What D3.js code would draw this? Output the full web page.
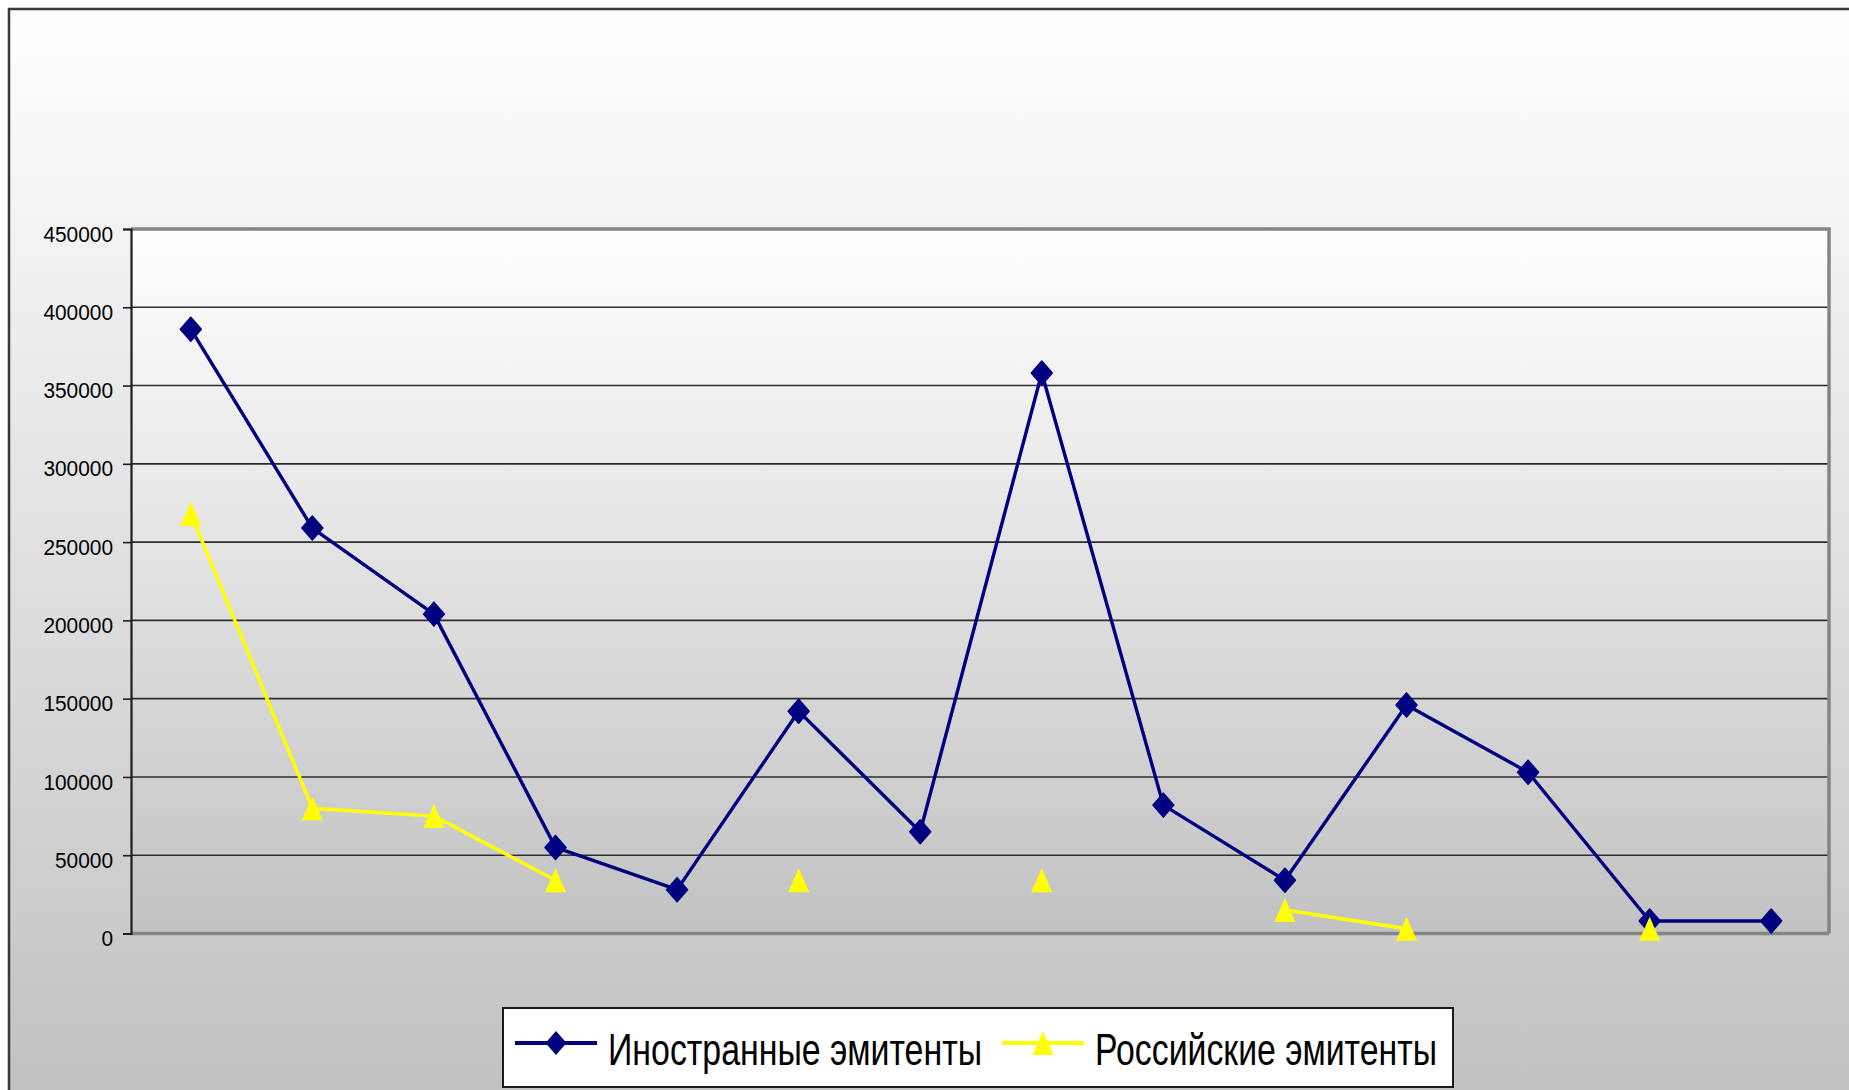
<!DOCTYPE html>
<html>
<head>
<meta charset="utf-8">
<script src="https://cdn.jsdelivr.net/npm/d3@7"></script>
<style>
  html, body { margin: 0; padding: 0; background: #ffffff; }
  svg { display: block; }
  text { font-family: "Liberation Sans", Arial, sans-serif; fill: #000; }
</style>
</head>
<body>
<svg id="chart" width="1849" height="1090"></svg>
<script>
// Periods along the horizontal axis (unlabelled in the chart)
const categories = ["1", "2", "3", "4", "5", "6", "7", "8", "9", "10", "11", "12", "13", "14"];

// Series values
const foreignIssuers = [386000, 259000, 204000, 55000, 28000, 142000, 65000, 358000, 82000, 34000, 146000, 103000, 8000, 8000];
const russianIssuers = [268000, 80000, 75000, 34000, null, 34000, null, 34000, null, 15000, 3000, null, 3000, null];

// Series names for the legend
const seriesNames = ["Иностранные эмитенты", "Российские эмитенты"];

// Y axis ticks
const yTicks = [0, 50000, 100000, 150000, 200000, 250000, 300000, 350000, 400000, 450000];

const W = 1849, H = 1090;
const plot = { left: 131, top: 229, right: 1829, bottom: 933.5 };

const svg = d3.select("#chart");
const defs = svg.append("defs");

// Background gradients
const outerGrad = defs.append("linearGradient").attr("id", "outerGrad")
  .attr("x1", 0).attr("y1", 0).attr("x2", 0).attr("y2", 1);
outerGrad.append("stop").attr("offset", "0%").attr("stop-color", "#ffffff");
outerGrad.append("stop").attr("offset", "100%").attr("stop-color", "#c0c0c0");

const plotGrad = defs.append("linearGradient").attr("id", "plotGrad")
  .attr("x1", 0).attr("y1", 0).attr("x2", 0).attr("y2", 1);
plotGrad.append("stop").attr("offset", "0%").attr("stop-color", "#ffffff");
plotGrad.append("stop").attr("offset", "100%").attr("stop-color", "#c2c2c2");

// Chart area with border (extends past the right and bottom edges)
svg.append("rect")
  .attr("x", 9).attr("y", 9).attr("width", W + 20).attr("height", H + 20)
  .attr("fill", "url(#outerGrad)")
  .attr("stroke", "#3a3a3a").attr("stroke-width", 2.5);

// Scales
const x = d3.scaleBand().domain(categories).range([130, 1832]);
const y = d3.scaleLinear().domain([0, 450000]).range([plot.bottom, plot.top]);
const cx = d => x(d) + x.bandwidth() / 2;

// Plot area
svg.append("rect")
  .attr("x", plot.left).attr("y", plot.top)
  .attr("width", plot.right - plot.left).attr("height", plot.bottom - plot.top)
  .attr("fill", "url(#plotGrad)");

// Horizontal gridlines
svg.append("g")
  .selectAll("line")
  .data(yTicks.filter(v => v > 0 && v < 450000))
  .join("line")
  .attr("x1", plot.left).attr("x2", plot.right)
  .attr("y1", d => y(d)).attr("y2", d => y(d))
  .attr("stroke", "#2e2e2e").attr("stroke-width", 1.6);

// Plot area border: top and right in gray
svg.append("path")
  .attr("d", `M${plot.left},${y(450000)}H${plot.right}V${plot.bottom}`)
  .attr("fill", "none").attr("stroke", "#858585").attr("stroke-width", 3.5);

// Category axis (gray)
svg.append("line")
  .attr("x1", plot.left).attr("x2", plot.right)
  .attr("y1", plot.bottom).attr("y2", plot.bottom)
  .attr("stroke", "#858585").attr("stroke-width", 3.5);

// Value axis
const yAxis = d3.axisLeft(y).tickValues(yTicks).tickSize(8).tickPadding(10).tickFormat(d3.format("d"));
const yAxisG = svg.append("g").attr("transform", `translate(${plot.left},0)`).call(yAxis);
yAxisG.select(".domain").attr("stroke", "#1e1e1e").attr("stroke-width", 2.2);
yAxisG.selectAll(".tick line").attr("stroke", "#1e1e1e").attr("stroke-width", 1.6);
yAxisG.selectAll(".tick text")
  .attr("font-family", "'Liberation Sans', Arial, sans-serif")
  .attr("font-size", 22)
  .attr("fill", "#000")
  .attr("dy", "0.55em")
  .each(function(d) {
    const s = d3.format("d")(d);
    d3.select(this).attr("textLength", s.length * 11.6).attr("lengthAdjust", "spacingAndGlyphs");
  });

// Marker shapes
const diamondPath = (px, py, hw = 10.5, hh = 12) =>
  `M${px},${py - hh}L${px + hw},${py}L${px},${py + hh}L${px - hw},${py}Z`;
const trianglePath = (px, py, hw = 10.5, hh = 12) =>
  `M${px},${py - hh}L${px + hw},${py + hh}L${px - hw},${py + hh}Z`;

const navy = "#000080";
const yellow = "#ffff00";

// Foreign issuers series
const foreignData = categories.map((c, i) => ({ c, v: foreignIssuers[i] }));
const lineGen = d3.line()
  .defined(d => d.v != null)
  .x(d => cx(d.c))
  .y(d => y(d.v));

svg.append("path")
  .datum(foreignData)
  .attr("d", lineGen)
  .attr("fill", "none").attr("stroke", navy).attr("stroke-width", 3.4)
  .attr("stroke-linejoin", "round");

svg.append("g")
  .selectAll("path")
  .data(foreignData.filter(d => d.v != null))
  .join("path")
  .attr("d", d => diamondPath(cx(d.c), y(d.v)))
  .attr("fill", navy).attr("stroke", navy).attr("stroke-width", 1.5)
  .attr("stroke-linejoin", "round");

// Russian issuers series
const russianData = categories.map((c, i) => ({ c, v: russianIssuers[i] }));
svg.append("path")
  .datum(russianData)
  .attr("d", lineGen)
  .attr("fill", "none").attr("stroke", yellow).attr("stroke-width", 3.4)
  .attr("stroke-linejoin", "round");

svg.append("g")
  .selectAll("path")
  .data(russianData.filter(d => d.v != null))
  .join("path")
  .attr("d", d => trianglePath(cx(d.c), y(d.v)))
  .attr("fill", yellow);

// Legend
const legend = svg.append("g");
legend.append("rect")
  .attr("x", 503).attr("y", 1008).attr("width", 950).attr("height", 79)
  .attr("fill", "#ffffff").attr("stroke", "#1a1a1a").attr("stroke-width", 2);

const legendItems = [
  { name: seriesNames[0], color: navy, marker: diamondPath, x0: 515, textX: 608, textLen: 374 },
  { name: seriesNames[1], color: yellow, marker: trianglePath, x0: 1002, textX: 1095, textLen: 342 }
];
const ly = 1043;
legendItems.forEach(it => {
  legend.append("line")
    .attr("x1", it.x0).attr("x2", it.x0 + 82)
    .attr("y1", ly).attr("y2", ly)
    .attr("stroke", it.color).attr("stroke-width", 4);
  legend.append("path")
    .attr("d", it.marker(it.x0 + 41, ly))
    .attr("fill", it.color);
  legend.append("text")
    .attr("x", it.textX).attr("y", 1065)
    .attr("font-size", 45)
    .attr("textLength", it.textLen).attr("lengthAdjust", "spacingAndGlyphs")
    .text(it.name);
});
</script>
</body>
</html>
